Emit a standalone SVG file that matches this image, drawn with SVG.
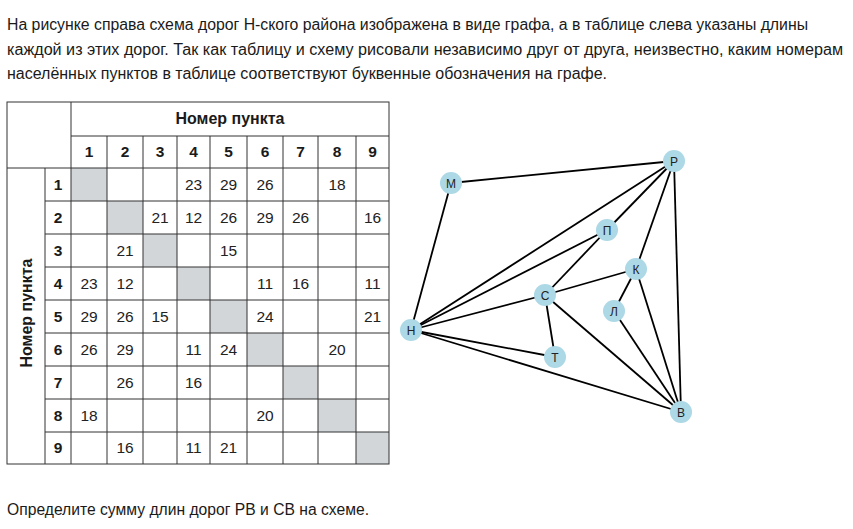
<svg xmlns="http://www.w3.org/2000/svg" width="853" height="529" viewBox="0 0 853 529">
<style>
.t{font-family:"Liberation Sans",Arial,sans-serif;font-size:16px;fill:#1a1a1a}
.h{font-family:"Liberation Sans",Arial,sans-serif;font-size:15.5px;font-weight:bold;fill:#1a1a1a;text-anchor:middle}
.n{font-family:"Liberation Sans",Arial,sans-serif;font-size:15.5px;fill:#222;text-anchor:middle}
.g{stroke:#333;stroke-width:1;fill:none}
.gray{fill:#d3d6d9}
.e{stroke:#000;stroke-width:1.8}
.v{fill:#add8e6}
.vl{font-family:"Liberation Sans",Arial,sans-serif;font-size:12px;fill:#222;text-anchor:middle}
</style>
<rect width="853" height="529" fill="#fff"/>
<g id="question">
<text class="t" x="7" y="30" textLength="801" lengthAdjust="spacingAndGlyphs">На рисунке справа схема дорог Н-ского района изображена в виде графа, а в таблице слева указаны длины</text>
<text class="t" x="7" y="55" textLength="836" lengthAdjust="spacingAndGlyphs">каждой из этих дорог. Так как таблицу и схему рисовали независимо друг от друга, неизвестно, каким номерам</text>
<text class="t" x="7" y="79" textLength="600" lengthAdjust="spacingAndGlyphs">населённых пунктов в таблице соответствуют буквенные обозначения на графе.</text>
<text class="t" x="7" y="515" textLength="362" lengthAdjust="spacingAndGlyphs">Определите сумму длин дорог РВ и СВ на схеме.</text>
</g>
<g id="table">
<g id="diag">
<rect class="gray" x="71" y="168" width="36" height="33"/>
<rect class="gray" x="107" y="201" width="36" height="33"/>
<rect class="gray" x="143" y="234" width="34" height="33"/>
<rect class="gray" x="177" y="267" width="33" height="33"/>
<rect class="gray" x="210" y="300" width="37" height="33"/>
<rect class="gray" x="247" y="333" width="36" height="33"/>
<rect class="gray" x="283" y="366" width="35" height="33"/>
<rect class="gray" x="318" y="399" width="38" height="33"/>
<rect class="gray" x="356" y="432" width="33" height="32"/>
</g>
<g id="grid">
<rect class="g" x="7" y="102" width="382" height="362"/>
<path class="g" d="M71 102V464M45 168V464M107 136V464M143 136V464M177 136V464M210 136V464M247 136V464M283 136V464M318 136V464M356 136V464M71 136H389M7 168H389M45 201H389M45 234H389M45 267H389M45 300H389M45 333H389M45 366H389M45 399H389M45 432H389"/>
</g>
<g id="headers">
<text class="h" x="230" y="124" style="font-size:16px">Номер пункта</text>
<text class="h" transform="translate(32,313) rotate(-90)" style="font-size:16px">Номер пункта</text>
<text class="h" x="89" y="157">1</text>
<text class="h" x="125" y="157">2</text>
<text class="h" x="160" y="157">3</text>
<text class="h" x="193.5" y="157">4</text>
<text class="h" x="228.5" y="157">5</text>
<text class="h" x="265" y="157">6</text>
<text class="h" x="300.5" y="157">7</text>
<text class="h" x="337" y="157">8</text>
<text class="h" x="372.5" y="157">9</text>
<text class="h" x="58" y="190">1</text>
<text class="h" x="58" y="223">2</text>
<text class="h" x="58" y="256">3</text>
<text class="h" x="58" y="289">4</text>
<text class="h" x="58" y="322">5</text>
<text class="h" x="58" y="355">6</text>
<text class="h" x="58" y="388">7</text>
<text class="h" x="58" y="421">8</text>
<text class="h" x="58" y="453">9</text>
</g>
<g id="values">
<text class="n" x="193.5" y="190">23</text><text class="n" x="228.5" y="190">29</text><text class="n" x="265" y="190">26</text><text class="n" x="337" y="190">18</text>
<text class="n" x="160" y="223">21</text><text class="n" x="193.5" y="223">12</text><text class="n" x="228.5" y="223">26</text><text class="n" x="265" y="223">29</text><text class="n" x="300.5" y="223">26</text><text class="n" x="372.5" y="223">16</text>
<text class="n" x="125" y="256">21</text><text class="n" x="228.5" y="256">15</text>
<text class="n" x="89" y="289">23</text><text class="n" x="125" y="289">12</text><text class="n" x="265" y="289">11</text><text class="n" x="300.5" y="289">16</text><text class="n" x="372.5" y="289">11</text>
<text class="n" x="89" y="322">29</text><text class="n" x="125" y="322">26</text><text class="n" x="160" y="322">15</text><text class="n" x="265" y="322">24</text><text class="n" x="372.5" y="322">21</text>
<text class="n" x="89" y="355">26</text><text class="n" x="125" y="355">29</text><text class="n" x="193.5" y="355">11</text><text class="n" x="228.5" y="355">24</text><text class="n" x="337" y="355">20</text>
<text class="n" x="125" y="388">26</text><text class="n" x="193.5" y="388">16</text>
<text class="n" x="89" y="421">18</text><text class="n" x="265" y="421">20</text>
<text class="n" x="125" y="453">16</text><text class="n" x="193.5" y="453">11</text><text class="n" x="228.5" y="453">21</text>
</g>
</g>
<g id="edges">
<line class="e" x1="451" y1="183" x2="674" y2="161"/>
<line class="e" x1="451" y1="183" x2="411" y2="330"/>
<line class="e" x1="411" y1="330" x2="674" y2="161"/>
<line class="e" x1="411" y1="330" x2="607" y2="230"/>
<line class="e" x1="411" y1="330" x2="545" y2="295"/>
<line class="e" x1="411" y1="330" x2="555" y2="357"/>
<line class="e" x1="411" y1="330" x2="681" y2="412"/>
<line class="e" x1="607" y1="230" x2="674" y2="161"/>
<line class="e" x1="607" y1="230" x2="545" y2="295"/>
<line class="e" x1="545" y1="295" x2="636" y2="269"/>
<line class="e" x1="545" y1="295" x2="555" y2="357"/>
<line class="e" x1="545" y1="295" x2="681" y2="412"/>
<line class="e" x1="636" y1="269" x2="674" y2="161"/>
<line class="e" x1="636" y1="269" x2="614" y2="311"/>
<line class="e" x1="636" y1="269" x2="681" y2="412"/>
<line class="e" x1="614" y1="311" x2="681" y2="412"/>
<line class="e" x1="674" y1="161" x2="681" y2="412"/>
</g>
<g id="node-R"><circle class="v" cx="674" cy="161" r="11"/><text class="vl" x="674" y="165.5">Р</text></g>
<g id="node-M"><circle class="v" cx="451" cy="183" r="11"/><text class="vl" x="451" y="187.5">М</text></g>
<g id="node-P"><circle class="v" cx="607" cy="230" r="11"/><text class="vl" x="607" y="234.5">П</text></g>
<g id="node-K"><circle class="v" cx="636" cy="269" r="11"/><text class="vl" x="636" y="273.5">К</text></g>
<g id="node-S"><circle class="v" cx="545" cy="295" r="11"/><text class="vl" x="545" y="299.5">С</text></g>
<g id="node-L"><circle class="v" cx="614" cy="311" r="11"/><text class="vl" x="614" y="315.5">Л</text></g>
<g id="node-N"><circle class="v" cx="411" cy="330" r="11"/><text class="vl" x="411" y="334.5">Н</text></g>
<g id="node-T"><circle class="v" cx="555" cy="357" r="11"/><text class="vl" x="555" y="361.5">Т</text></g>
<g id="node-V"><circle class="v" cx="681" cy="412" r="11"/><text class="vl" x="681" y="416.5">В</text></g>
</svg>
